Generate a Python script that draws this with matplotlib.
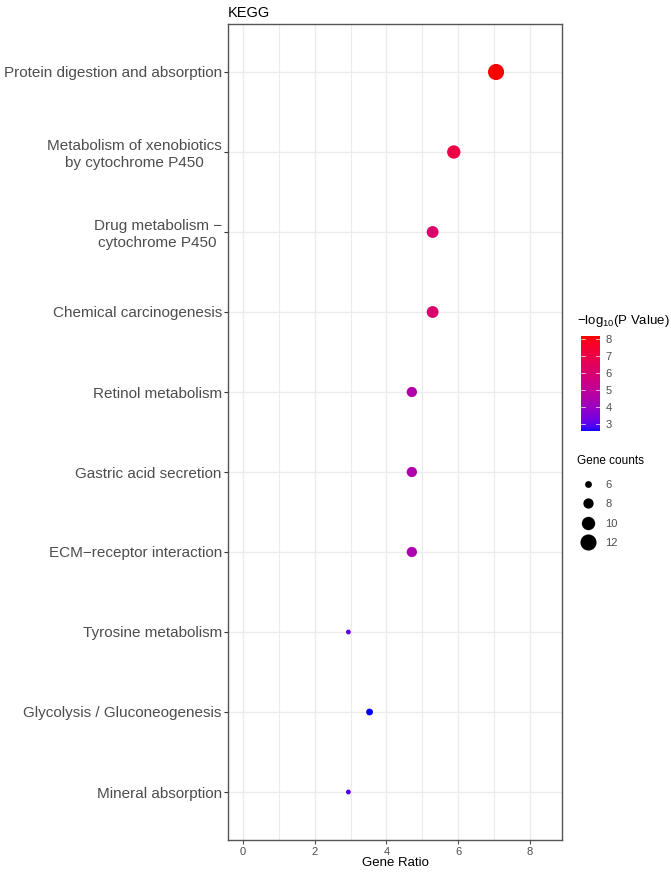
import numpy as np
import matplotlib
matplotlib.use('Agg')
import matplotlib.pyplot as plt
from matplotlib.colors import ListedColormap, Normalize
from matplotlib.lines import Line2D

plt.rcParams['font.family'] = ['Liberation Sans', 'DejaVu Sans']

# KEGG pathways, top to bottom
pathways = [
    'Protein digestion and absorption',
    'Metabolism of xenobiotics\nby cytochrome P450',
    'Drug metabolism \u2212\ncytochrome P450',
    'Chemical carcinogenesis',
    'Retinol metabolism',
    'Gastric acid secretion',
    'ECM\u2212receptor interaction',
    'Tyrosine metabolism',
    'Glycolysis / Gluconeogenesis',
    'Mineral absorption',
]
gene_ratio = [7.06, 5.88, 5.29, 5.29, 4.71, 4.71, 4.71, 2.94, 3.53, 2.94]
gene_counts = [12, 10, 9, 9, 8, 8, 8, 5, 6, 5]
neg_log_p = [8.19, 7.05, 6.15, 6.1, 4.6, 4.55, 4.45, 3.1, 2.59, 2.9]

size_breaks = [6, 8, 10, 12]
color_breaks = [3, 4, 5, 6, 7, 8]


# ggplot-style blue->red gradient, interpolated in Lab space
def srgb_to_lab(rgb):
    rgb = np.asarray(rgb, float)
    c = np.where(rgb <= 0.04045, rgb / 12.92, ((rgb + 0.055) / 1.055) ** 2.4)
    M = np.array([[0.4124, 0.3576, 0.1805], [0.2126, 0.7152, 0.0722], [0.0193, 0.1192, 0.9505]])
    xyz = M @ c / np.array([0.95047, 1.0, 1.08883])
    f = np.where(xyz > 0.008856, np.cbrt(xyz), 7.787 * xyz + 16 / 116)
    return np.array([116 * f[1] - 16, 500 * (f[0] - f[1]), 200 * (f[1] - f[2])])


def lab_to_srgb(lab):
    L, a, b = lab
    fy = (L + 16) / 116
    fx = fy + a / 500
    fz = fy - b / 200
    f = np.array([fx, fy, fz])
    xyz = np.where(f ** 3 > 0.008856, f ** 3, (f - 16 / 116) / 7.787) * np.array([0.95047, 1.0, 1.08883])
    Minv = np.array([[3.2406, -1.5372, -0.4986], [-0.9689, 1.8758, 0.0415], [0.0557, -0.2040, 1.0570]])
    c = Minv @ xyz
    c = np.clip(c, 0, 1)
    rgb = np.where(c <= 0.0031308, 12.92 * c, 1.055 * c ** (1 / 2.4) - 0.055)
    return np.clip(rgb, 0, 1)


lo, hi = srgb_to_lab([0, 0, 1]), srgb_to_lab([1, 0, 0])
cmap = ListedColormap([lab_to_srgb(lo + t * (hi - lo)) for t in np.linspace(0, 1, 256)])
norm = Normalize(vmin=min(neg_log_p), vmax=max(neg_log_p))


# point size like scale_size (area), range 1..6
def to_s(c):
    c = np.asarray(c, float)
    size = 1 + 5 * (np.sqrt(c) - np.sqrt(min(gene_counts))) / (np.sqrt(max(gene_counts)) - np.sqrt(min(gene_counts)))
    d_px = 2.6 + 2.25 * size
    return (d_px * 72 / 100) ** 2


fig = plt.figure(figsize=(6.71, 8.72), dpi=100)
ax = fig.add_axes([228 / 671, 1 - 840 / 872, (562 - 228) / 671, (840 - 24) / 872])

y = np.arange(len(pathways))[::-1]
ax.scatter(gene_ratio, y, s=to_s(gene_counts), c=neg_log_p, cmap=cmap, norm=norm,
           linewidths=0, zorder=3)

ax.set_xlim(-0.42, 8.9)
ax.set_ylim(-0.6, len(pathways) - 0.4)
ax.set_xticks([0, 2, 4, 6, 8])
ax.set_xticks([1, 3, 5, 7], minor=True)
ax.set_yticks(y)
ax.set_yticklabels(pathways, fontsize=11, color='#4d4d4d', multialignment='center')
ax.tick_params(axis='x', labelsize=8, colors='#4d4d4d', length=3, width=0.8, pad=2)
ax.tick_params(axis='y', length=3, width=0.8, colors='#333333', labelcolor='#4d4d4d', pad=1.5)
ax.tick_params(which='minor', length=0)
ax.grid(True, which='major', color='#ebebeb', linewidth=1.0, zorder=0)
ax.grid(True, which='minor', axis='x', color='#ebebeb', linewidth=0.8, zorder=0)
ax.set_axisbelow(True)
for sp in ax.spines.values():
    sp.set_color('#555555')
    sp.set_linewidth(1.0)
ax.set_xlabel('Gene Ratio', fontsize=9.5, labelpad=0)
ax.set_title('KEGG', fontsize=10.5, loc='left', pad=5)

# colour bar
cax = fig.add_axes([581 / 671, 1 - 431 / 872, 19 / 671, 95 / 872])
cb = fig.colorbar(plt.cm.ScalarMappable(norm=norm, cmap=cmap), cax=cax)
cb.set_ticks(color_breaks)
cb.outline.set_visible(False)
cax.tick_params(length=0, labelsize=8, colors='#4d4d4d', pad=4)
for v in color_breaks:
    cax.plot([0, 0.2], [v, v], color='white', linewidth=0.6, alpha=0.8, transform=cax.get_yaxis_transform())
    cax.plot([0.8, 1], [v, v], color='white', linewidth=0.6, alpha=0.8, transform=cax.get_yaxis_transform())
fig.text(577 / 671, 1 - 321 / 872, r'$\mathregular{-log_{10}}$(P Value)', fontsize=9.5,
         va='center', ha='left')

# size legend
handles = [Line2D([], [], marker='o', linestyle='', color='black', markeredgewidth=0,
                  markersize=np.sqrt(to_s(v))) for v in size_breaks]
leg = fig.legend(handles, [str(v) for v in size_breaks], title='Gene counts',
                 loc='upper left', bbox_to_anchor=(575 / 671, 1 - 453 / 872),
                 frameon=False, fontsize=8, title_fontsize=8.5, labelspacing=0.85,
                 handletextpad=0.5, handlelength=2.0, borderaxespad=0, borderpad=0.2)
leg._legend_box.align = 'left'
leg._legend_box.sep = 9
for t in leg.get_texts():
    t.set_color('#4d4d4d')

fig.savefig('out.png', dpi=100)
